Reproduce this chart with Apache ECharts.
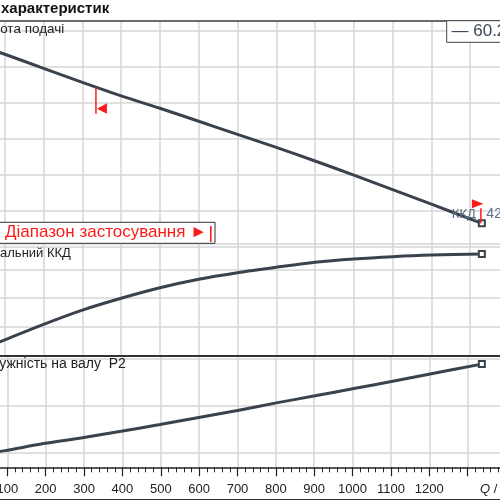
<!DOCTYPE html>
<html>
<head>
<meta charset="utf-8">
<title>Криві характеристик</title>
<script src="https://cdn.jsdelivr.net/npm/echarts@6/dist/echarts.min.js"></script>
<style>
  html, body { margin: 0; padding: 0; background: #fff; overflow: hidden; width: 500px; height: 500px; }
  /* графік ширший за вікно: початок осі Q лежить за лівим краєм */
  #chart { position: absolute; left: -34px; top: 0; width: 543px; height: 500px; }
</style>
</head>
<body>
<div id="chart"></div>
<script>
// витрата Q, м3/год
var qFlow = [0, 100, 200, 300, 400, 500, 600, 700, 800, 900, 1000, 1100, 1200, 1330];
// висота подачі H, м
var headM = [21.45, 20.69, 19.91, 19.13, 18.38, 17.69, 16.97, 16.24, 15.52, 14.76, 13.98, 13.17, 12.36, 11.30];
// загальний ККД, %
var effPct = [0, 11.0, 21.8, 31.7, 39.9, 47.2, 53.1, 57.6, 61.4, 64.9, 67.2, 68.8, 69.9, 70.6];
// потужність на валу P2, кВт
var powerKW = [18.3, 21.0, 24.0, 26.5, 29.2, 32.1, 35.1, 38.1, 41.3, 44.3, 47.4, 50.5, 53.7, 57.8];
// межі діапазону застосування: Q, H, сторона (-1 мін, 1 макс)
var rangeQ = [335, 1330];
var rangeH = [18.86, 11.30];
var rangeSide = [-1, 1];
// підписи осі Q
var qLabels = [100, 200, 300, 400, 500, 600, 700, 800, 900, 1000, 1100, 1200];

var OX = 34; // зсув контейнера вліво
var FONT = "'Liberation Sans', Arial, sans-serif";
var CURVE = '#3a434d';
var GRIDC = '#d6d6d6';
var RED = '#ff1a1a';

function pairs(ys) {
  return qFlow.map(function (q, i) { return [q, ys[i]]; });
}
function endSymbol(value, params) {
  return params.dataIndex === qFlow.length - 1 ? 'emptyRect' : 'none';
}

var myChart = echarts.init(document.getElementById('chart'));

var xBase = { type: 'value', min: 0, max: 1400, interval: 100 };
function hiddenX(grid, lineColor, lineWidth, split) {
  return Object.assign({}, xBase, {
    gridIndex: grid,
    position: 'top',
    axisLine: { show: true, lineStyle: { color: lineColor, width: lineWidth } },
    axisTick: { show: false },
    axisLabel: { show: false },
    splitLine: { show: split, lineStyle: { color: GRIDC, width: 1.5 } }
  });
}
function gridY(grid, min, max, interval) {
  return {
    type: 'value', gridIndex: grid, min: min, max: max, interval: interval,
    axisLine: { show: false }, axisTick: { show: false }, axisLabel: { show: false },
    splitLine: { show: true, lineStyle: { color: GRIDC, width: 1.5 } }
  };
}
function curve(name, ys, idx) {
  return {
    name: name, type: 'line', xAxisIndex: idx, yAxisIndex: idx,
    data: pairs(ys), smooth: 0.3,
    symbol: endSymbol, symbolSize: 6, showSymbol: true,
    lineStyle: { color: CURVE, width: 3 },
    itemStyle: { color: CURVE, borderWidth: 2 },
    silent: true
  };
}

var option = {
  animation: false,
  grid: [
    { left: 0, right: 0, top: 20.7, bottom: 253.3 },
    { left: 0, right: 0, top: 243.3, bottom: 144.3 },
    { left: 0, right: 0, top: 355.7, bottom: 32.7 },
    { left: 0, right: 0, top: 355.7, bottom: -3 }
  ],
  xAxis: [
    hiddenX(0, '#444', 1.5, true),
    hiddenX(1, '#333', 2, true),
    Object.assign({}, xBase, {
      gridIndex: 2,
      position: 'bottom',
      axisLine: { show: true, lineStyle: { color: '#222', width: 1.5 } },
      axisTick: { show: true, length: 9, lineStyle: { color: '#222', width: 1.2 } },
      minorTick: { show: true, splitNumber: 5, length: 5, lineStyle: { color: '#222', width: 1 } },
      axisLabel: {
        margin: 16, fontSize: 13, fontFamily: FONT, color: '#222',
        formatter: function (v) { return qLabels.indexOf(v) >= 0 ? String(v) : ''; }
      },
      splitLine: { show: true, lineStyle: { color: GRIDC, width: 1.5 } }
    }),
    hiddenX(3, '#333', 2, false)
  ],
  yAxis: [
    gridY(0, 10, 10 + 226 / 18, 2),
    gridY(1, 0, 112.4 / 28.8 * 20, 20),
    { type: 'value', gridIndex: 2, min: 0, max: 1, show: false },
    gridY(3, 0, 147.3 / 48 * 20, 20)
  ],
  series: [
    curve('Висота подачі', headM, 0),
    curve('Загальний ККД', effPct, 1),
    curve('Потужність на валу P2', powerKW, 3),
    {
      type: 'custom', xAxisIndex: 0, yAxisIndex: 0, clip: false, silent: true, z: 5,
      data: rangeQ.map(function (q, i) { return [q, rangeH[i], rangeSide[i]]; }),
      renderItem: function (params, api) {
        var p = api.coord([api.value(0), api.value(1)]);
        var x = p[0], y = p[1];
        if (api.value(2) < 0) {
          return { type: 'group', children: [
            { type: 'line', shape: { x1: x, y1: y, x2: x, y2: y + 26.5 },
              style: { stroke: RED, lineWidth: 1.5 } },
            { type: 'polygon', shape: { points: [[x + 1, y + 21.5], [x + 11, y + 16], [x + 11, y + 26.5]] },
              style: { fill: RED } }
          ] };
        }
        return { type: 'group', children: [
          { type: 'text', x: x - 30, y: y - 9,
            style: { text: 'ККД', fill: '#5b6e86', font: '13px ' + FONT, verticalAlign: 'middle' } },
          { type: 'text', x: x + 4.5, y: y - 9,
            style: { text: '42', fill: '#5b6e86', font: '14px ' + FONT, verticalAlign: 'middle' } },
          { type: 'line', shape: { x1: x - 1, y1: y, x2: x - 1, y2: y - 15 },
            style: { stroke: RED, lineWidth: 1.5 } },
          { type: 'polygon', shape: { points: [[x - 10, y - 24], [x - 10, y - 15], [x + 1.5, y - 19.5]] },
            style: { fill: RED } }
        ] };
      }
    }
  ],
  graphic: [
    { type: 'text', x: OX + 1, y: 8.5, z: 20,
      style: { text: 'характеристик', font: 'bold 15px ' + FONT, fill: '#111', verticalAlign: 'middle' } },
    { type: 'text', x: OX - 23.3, y: 29.5, z: 20,
      style: { text: 'Висота подачі', font: '13.5px ' + FONT, fill: '#222', verticalAlign: 'middle' } },
    { type: 'text', x: OX - 19.5, y: 253.8, z: 20,
      style: { text: 'Загальний ККД', font: '13px ' + FONT, fill: '#222', verticalAlign: 'middle' } },
    { type: 'text', x: OX - 24.8, y: 364.5, z: 20,
      style: { text: 'Потужність на валу  P2', font: '14px ' + FONT, fill: '#222', verticalAlign: 'middle' } },
    { type: 'rect', z: 20, shape: { x: OX - 2, y: 222.3, width: 217, height: 21 },
      style: { fill: '#fff', stroke: '#333', lineWidth: 1 } },
    { type: 'text', x: OX + 5, y: 232, z: 21,
      style: { text: 'Діапазон застосування ►', font: '17px ' + FONT, fill: RED, verticalAlign: 'middle' } },
    { type: 'rect', z: 21, shape: { x: OX + 210, y: 226, width: 1.6, height: 16 }, style: { fill: RED } },
    { type: 'rect', z: 20, shape: { x: OX + 446.7, y: 20.7, width: 60, height: 21.6 },
      style: { fill: '#fff', stroke: '#444', lineWidth: 1 } },
    { type: 'text', x: OX + 451.5, y: 31.7, z: 21,
      style: { text: '— 60.2', font: '17px ' + FONT, fill: '#3a4654', verticalAlign: 'middle' } },
    { type: 'text', x: OX + 480, y: 489.5, z: 20,
      style: { text: '{i|Q} / [m³/h]', font: '13px ' + FONT, fill: '#222', verticalAlign: 'middle',
        rich: { i: { fontStyle: 'italic', fontSize: 13, fontFamily: FONT } } } }
  ]
};

myChart.setOption(option);
</script>
</body>
</html>
